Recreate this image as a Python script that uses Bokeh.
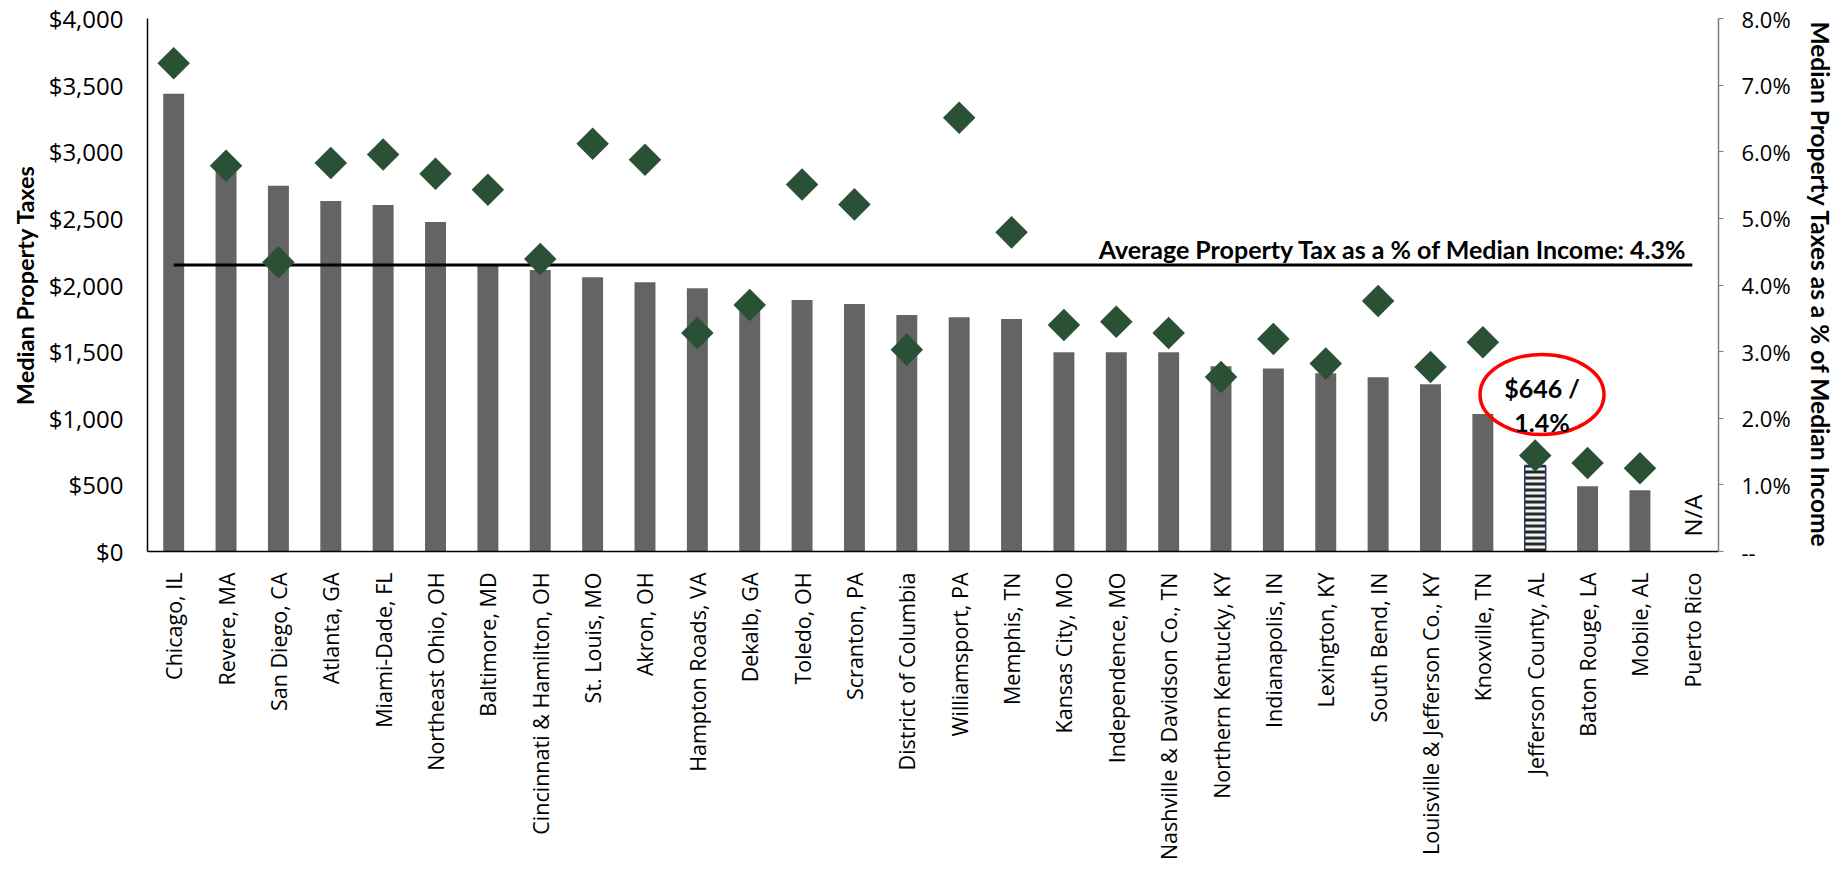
import numpy as np
from bokeh.plotting import figure
from bokeh.models import Range1d, LinearAxis, FactorRange, ColumnDataSource, FixedTicker
from bokeh.core.properties import value
from bokeh.embed import file_html
from bokeh.resources import INLINE

categories = [
    "Chicago, IL", "Revere, MA", "San Diego, CA", "Atlanta, GA", "Miami-Dade, FL",
    "Northeast Ohio, OH", "Baltimore, MD", "Cincinnati & Hamilton, OH", "St. Louis, MO",
    "Akron, OH", "Hampton Roads, VA", "Dekalb, GA", "Toledo, OH", "Scranton, PA",
    "District of Columbia", "Williamsport, PA", "Memphis, TN", "Kansas City, MO",
    "Independence, MO", "Nashville & Davidson Co., TN", "Northern Kentucky, KY",
    "Indianapolis, IN", "Lexington, KY", "South Bend, IN", "Louisville & Jefferson Co., KY",
    "Knoxville, TN", "Jefferson County, AL", "Baton Rouge, LA", "Mobile, AL", "Puerto Rico",
]
median_tax = [3436, 2880, 2744, 2631, 2601, 2472, 2148, 2113, 2059, 2021,
              1976, 1890, 1887, 1858, 1775, 1758, 1745, 1495, 1495, 1495,
              1391, 1374, 1337, 1307, 1256, 1031, 646, 489, 459, None]
tax_pct = [7.33, 5.79, 4.34, 5.83, 5.96, 5.67, 5.43, 4.39, 6.12, 5.88,
           3.28, 3.70, 5.51, 5.21, 3.03, 6.51, 4.79, 3.40, 3.45, 3.28,
           2.62, 3.19, 2.82, 3.76, 2.77, 3.14, 1.44, 1.33, 1.25, None]
avg_pct = 4.3
highlight = "Jefferson County, AL"

left_ticks = [0, 500, 1000, 1500, 2000, 2500, 3000, 3500, 4000]
left_tick_labels = ["$0", "$500", "$1,000", "$1,500", "$2,000", "$2,500", "$3,000", "$3,500", "$4,000"]
right_ticks = [0, 1, 2, 3, 4, 5, 6, 7, 8]
right_tick_labels = ["--", "1.0%", "2.0%", "3.0%", "4.0%", "5.0%", "6.0%", "7.0%", "8.0%"]

TICK_FONT = "Open Sans"
TITLE_FONT = "Lato"
BAR_COLOR = "#646464"
DIAMOND_COLOR = "#2A5135"

p = figure(
    x_range=FactorRange(*categories, range_padding=0, factor_padding=0),
    y_range=Range1d(0, 4000),
    width=1840, height=872,
    output_backend="svg", toolbar_location=None,
    min_border_left=147, min_border_right=122, min_border_top=18, min_border_bottom=321,
)
p.extra_y_ranges = {"pct": Range1d(0, 8)}
p.outline_line_color = None
p.xgrid.visible = False
p.ygrid.visible = False
p.background_fill_color = "white"

# bars
normal = [(c, v) for c, v in zip(categories, median_tax) if v is not None and c != highlight]
src_bars = ColumnDataSource(dict(cat=[c for c, _ in normal], tax=[v for _, v in normal]))
p.vbar(x="cat", top="tax", width=0.4, source=src_bars, fill_color=BAR_COLOR, line_color=None)

hi_idx = categories.index(highlight)
src_hi = ColumnDataSource(dict(cat=[highlight], tax=[median_tax[hi_idx]]))
p.vbar(x="cat", top="tax", width=0.4, source=src_hi, fill_color="#f2f2f2",
       hatch_pattern="horizontal_line", hatch_color="#262626", hatch_weight=3, hatch_scale=6,
       line_color="#1F3864", line_width=1.5)

# average line
p.line(x=[categories[0], categories[-1]], y=[avg_pct, avg_pct], y_range_name="pct",
       line_color="black", line_width=3)
p.text(x=[categories[-1]], y=[avg_pct], y_range_name="pct",
       text=[f"Average Property Tax as a % of Median Income: {avg_pct}%"],
       text_align="right", text_baseline="alphabetic", x_offset=-5, y_offset=-16,
       text_font=value(TITLE_FONT), text_font_style="bold", text_font_size="25px", text_color="black")

# diamonds
pts = [(c, v) for c, v in zip(categories, tax_pct) if v is not None]
src_pts = ColumnDataSource(dict(cat=[c for c, _ in pts], pct=[v for _, v in pts]))
p.scatter(x="cat", y="pct", source=src_pts, y_range_name="pct", marker="square",
          angle=np.pi / 4, size=23, fill_color=DIAMOND_COLOR, line_color=None)

# N/A markers
na_cats = [c for c, v in zip(categories, median_tax) if v is None]
p.text(x=na_cats, y=[0] * len(na_cats), text=["N/A"] * len(na_cats), angle=np.pi / 2,
       text_align="left", text_baseline="middle", y_offset=-15,
       text_font=value(TICK_FONT), text_font_size="24px", text_color="black")

# highlight callout
ell_x = hi_idx + 0.5 + 0.13
ell_y = 1178
p.ellipse(x=[ell_x], y=[ell_y], width=124, height=80, width_units="screen", height_units="screen",
          fill_color=None, line_color="#FF0000", line_width=3.5)
p.text(x=[ell_x, ell_x], y=[ell_y, ell_y],
       text=[f"${median_tax[hi_idx]:,} /", f"{tax_pct[hi_idx]:.1f}%"],
       y_offset=[-7, 27], text_align="center", text_baseline="alphabetic",
       text_font=value(TITLE_FONT), text_font_style="bold", text_font_size="25px", text_color="black")

# axes
xa = p.xaxis[0]
xa.major_label_orientation = np.pi / 2
xa.major_tick_out = 0
xa.major_tick_in = 0
xa.axis_line_color = "black"
xa.axis_line_width = 1.5
xa.major_label_standoff = 21
xa.major_label_text_font = TICK_FONT
xa.major_label_text_font_size = "21.5px"
xa.major_label_text_color = "black"

ya = p.yaxis[0]
ya.ticker = FixedTicker(ticks=left_ticks)
ya.major_label_overrides = {t: l for t, l in zip(left_ticks, left_tick_labels)}
ya.major_tick_out = 0
ya.major_tick_in = 0
ya.minor_tick_out = 0
ya.minor_tick_in = 0
ya.axis_line_color = "black"
ya.axis_line_width = 1.5
ya.major_label_standoff = 24
ya.major_label_text_font = TICK_FONT
ya.major_label_text_font_size = "24px"
ya.major_label_text_color = "black"
ya.axis_label = "Median Property Taxes"
ya.axis_label_text_font = TITLE_FONT
ya.axis_label_text_font_style = "bold"
ya.axis_label_text_font_size = "23.5px"
ya.axis_label_text_color = "black"
ya.axis_label_standoff = 7

ra = LinearAxis(y_range_name="pct", ticker=FixedTicker(ticks=right_ticks))
ra.major_label_overrides = {t: l for t, l in zip(right_ticks, right_tick_labels)}
ra.major_tick_out = 5
ra.major_tick_in = 0
ra.minor_tick_out = 0
ra.minor_tick_in = 0
ra.axis_line_color = "#7F7F7F"
ra.major_tick_line_color = "#7F7F7F"
ra.axis_line_width = 1.5
ra.major_label_standoff = 18
ra.major_label_text_font = TICK_FONT
ra.major_label_text_font_size = "22px"
ra.major_label_text_color = "black"
ra.axis_label = "Median Property Taxes as a % of Median Income"
ra.axis_label_text_font = TITLE_FONT
ra.axis_label_text_font_style = "bold"
ra.axis_label_text_font_size = "24.5px"
ra.axis_label_text_color = "black"
ra.axis_label_standoff = 12
p.add_layout(ra, "right")

open("out.html", "w").write(file_html(p, INLINE))
